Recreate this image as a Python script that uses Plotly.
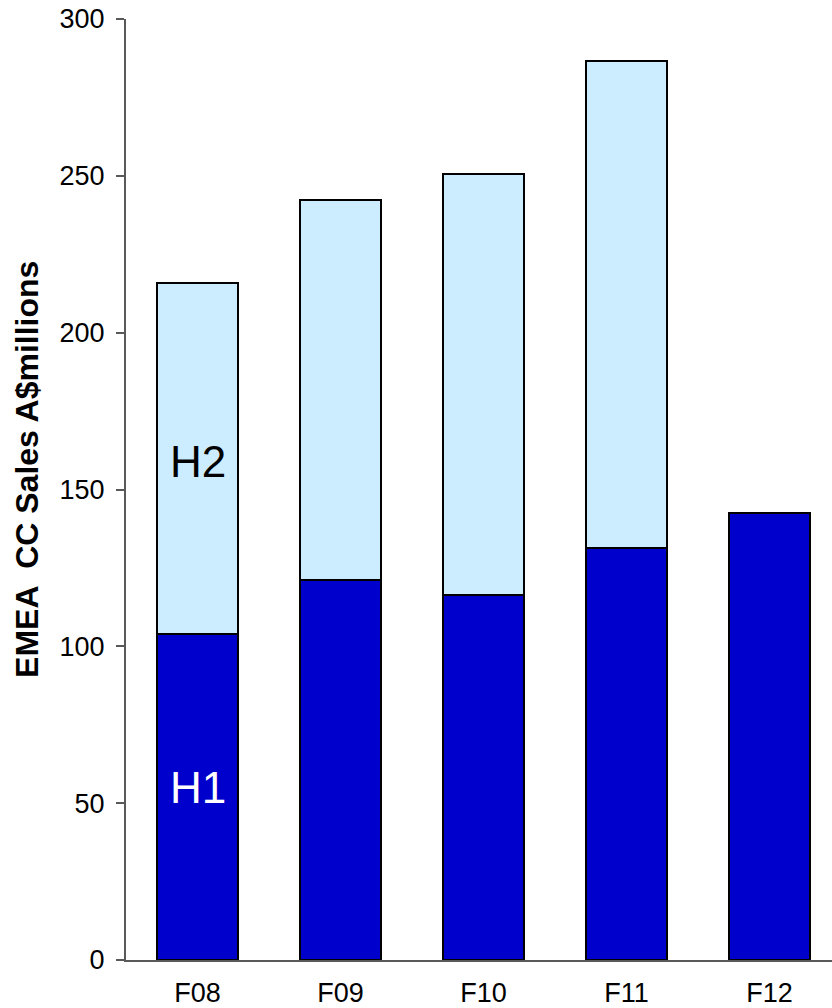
import plotly.graph_objects as go

# Half-year sales, A$ millions
years = ["F08", "F09", "F10", "F11", "F12"]
h1_sales = [104.0, 121.2, 116.4, 131.5, 142.5]
h2_sales = [111.7, 121.0, 134.1, 155.1, None]

y_ticks = [0, 50, 100, 150, 200, 250, 300]

FONT = "Liberation Sans, Arial, sans-serif"
DARK = "#0000CC"
LIGHT = "#CCECFF"

fig = go.Figure()
fig.add_trace(go.Bar(
    x=years, y=h1_sales, name="H1",
    marker=dict(color=DARK, line=dict(color="#000000", width=2)),
    width=0.56,
))
fig.add_trace(go.Bar(
    x=years, y=h2_sales, name="H2",
    marker=dict(color=LIGHT, line=dict(color="#000000", width=2)),
    width=0.56,
))

fig.update_layout(
    barmode="stack",
    width=832, height=1008,
    margin=dict(l=126, r=0, t=19, b=46),
    paper_bgcolor="white", plot_bgcolor="white",
    showlegend=False,
    font=dict(family=FONT, color="#000000"),
)

fig.update_xaxes(
    type="category",
    range=[-0.5, 4.437],
    showline=True, linecolor="#595959", linewidth=2,
    showgrid=False, zeroline=False, ticks="",
    tickfont=dict(size=27, family=FONT),
    ticklabelstandoff=8,
)
fig.update_yaxes(
    range=[0, 300],
    tickvals=y_ticks,
    showline=True, linecolor="#595959", linewidth=2,
    showgrid=False, zeroline=False,
    ticks="outside", ticklen=8, tickwidth=2, tickcolor="#595959",
    tickfont=dict(size=27, family=FONT),
    ticklabelstandoff=6,
)

# Axis title
fig.add_annotation(
    text="<b>EMEA  CC Sales A$millions</b>",
    xref="paper", yref="paper", x=-0.14, y=0.521,
    xanchor="center", yanchor="middle",
    textangle=-90, showarrow=False,
    font=dict(size=32, family=FONT, color="#000000"),
)

# Segment labels on the first bar
fig.add_annotation(text="H2", x="F08", y=159, showarrow=False,
                   font=dict(size=44, family=FONT, color="#000000"))
fig.add_annotation(text="H1", x="F08", y=55, showarrow=False,
                   font=dict(size=44, family=FONT, color="#FFFFFF"))

fig.write_html("out.html")
